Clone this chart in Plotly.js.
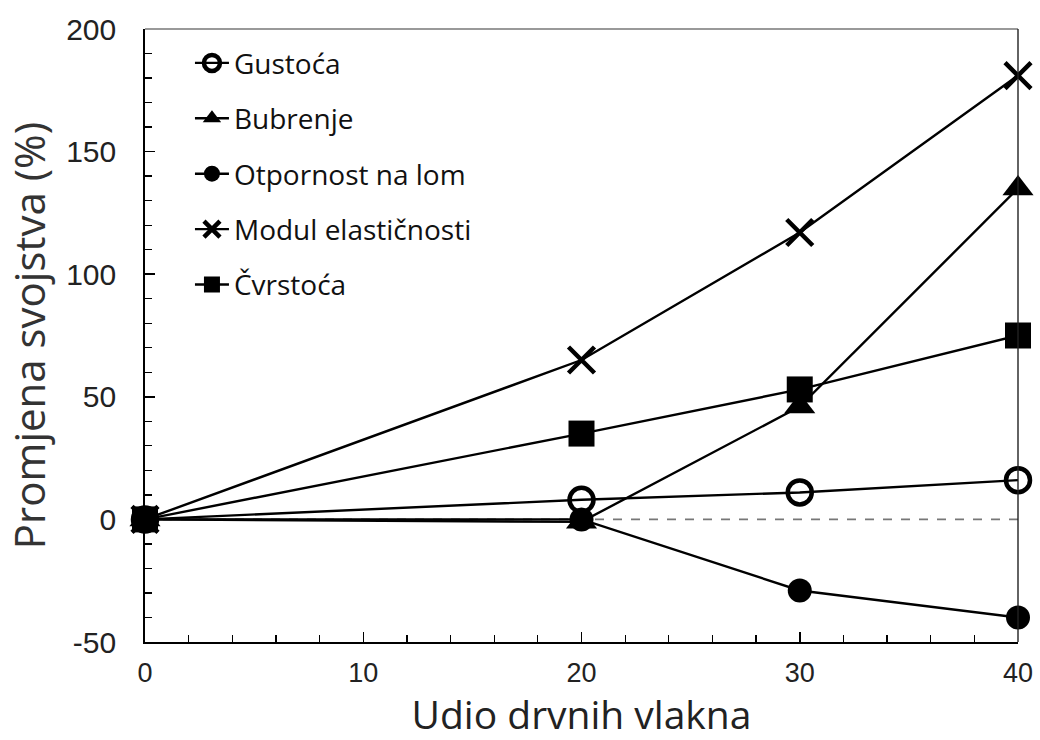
<!DOCTYPE html>
<html><head><meta charset="utf-8">
<script src="https://cdn.plot.ly/plotly-3.0.1.min.js"></script>
<style>body{margin:0;background:#fff}#c{width:1040px;height:740px}</style>
</head><body><div id="c"></div>
<script>
const fiber = [0, 20, 30, 40];
const seriesNames = ["Gustoća", "Bubrenje", "Otpornost na lom", "Modul elastičnosti", "Čvrstoća"];
const gustoca = [0, 8, 11, 16];
const bubrenje = [0, -1, 46, 135];
const otpornost = [0, 0, -29, -40];
const modul = [0, 65, 117, 181];
const cvrstoca = [0, 35, 53, 75];
const xTicks = [0, 10, 20, 30, 40];
const yTicks = [-50, 0, 50, 100, 150, 200];

const values = [gustoca, bubrenje, otpornost, modul, cvrstoca];
const markers = [
  {symbol: "circle-open", size: 24, color: "#000", line: {width: 4.5, color: "#000"}},
  {symbol: "triangle-up", size: 27, color: "#000"},
  {symbol: "circle", size: 24, color: "#000"},
  {symbol: "x-thin-open", size: 26, color: "#000", line: {width: 4.5, color: "#000"}},
  {symbol: "square", size: 26, color: "#000"}
];
const traces = values.map((v, i) => ({
  x: fiber, y: v, name: seriesNames[i], type: "scatter", mode: "lines+markers",
  line: {color: "#000", width: 2.4}, marker: markers[i],
  legendgroup: "g" + i, cliponaxis: false
}));

const layout = {
  width: 1040, height: 740,
  margin: {l: 145, r: 22, t: 29, b: 98},
  paper_bgcolor: "#fff", plot_bgcolor: "#fff",
  font: {family: "Liberation Sans, Arial, sans-serif", color: "#000"},
  showlegend: true,
  legend: {x: 0.0515, y: 0.985, xanchor: "left", yanchor: "top", traceorder: "grouped",
    tracegroupgap: 16, itemwidth: 34, bgcolor: "rgba(0,0,0,0)",
    font: {family: "Open Sans, Noto Sans, sans-serif", size: 28, color: "#111"}},
  xaxis: {range: [0, 40], tickvals: xTicks, ticktext: xTicks.map(String),
    showgrid: false, zeroline: false, showline: true, linecolor: "#000", linewidth: 1.8,
    ticks: "inside", ticklen: 10, tickwidth: 1.5, tickcolor: "#000",
    minor: {dtick: 2, ticks: "inside", ticklen: 7, tickwidth: 1.3, tickcolor: "#000", showgrid: false},
    tickfont: {size: 27, color: "#222"}, ticklabelstandoff: 6,
    title: {text: "Udio drvnih vlakna", font: {family: "Open Sans, Noto Sans, sans-serif", size: 39, color: "#222"}, standoff: 9}},
  yaxis: {range: [-50, 200], tickvals: yTicks, ticktext: yTicks.map(String),
    showgrid: false, zeroline: false, showline: true, linecolor: "#000", linewidth: 1.8,
    ticks: "inside", ticklen: 10, tickwidth: 1.5, tickcolor: "#000",
    minor: {dtick: 10, ticks: "inside", ticklen: 7, tickwidth: 1.3, tickcolor: "#000", showgrid: false},
    tickfont: {size: 30, color: "#222"}, ticklabelstandoff: 21,
    title: {text: "Promjena svojstva (%)", font: {family: "Open Sans, Noto Sans, sans-serif", size: 42, color: "#333"}, standoff: 8}},
  shapes: [
    {type: "line", xref: "x", yref: "y", x0: 0, x1: 40, y0: 0, y1: 0, layer: "below",
      line: {color: "#777", width: 1.8, dash: "dash"}},
    {type: "line", xref: "paper", yref: "paper", x0: 0, x1: 1, y0: 1, y1: 1,
      line: {color: "#999", width: 2.2}},
    {type: "line", xref: "paper", yref: "paper", x0: 1, x1: 1, y0: 0, y1: 1,
      line: {color: "#222", width: 1.4}}
  ]
};
Plotly.newPlot("c", traces, layout, {displayModeBar: false, staticPlot: true});
</script></body></html>
